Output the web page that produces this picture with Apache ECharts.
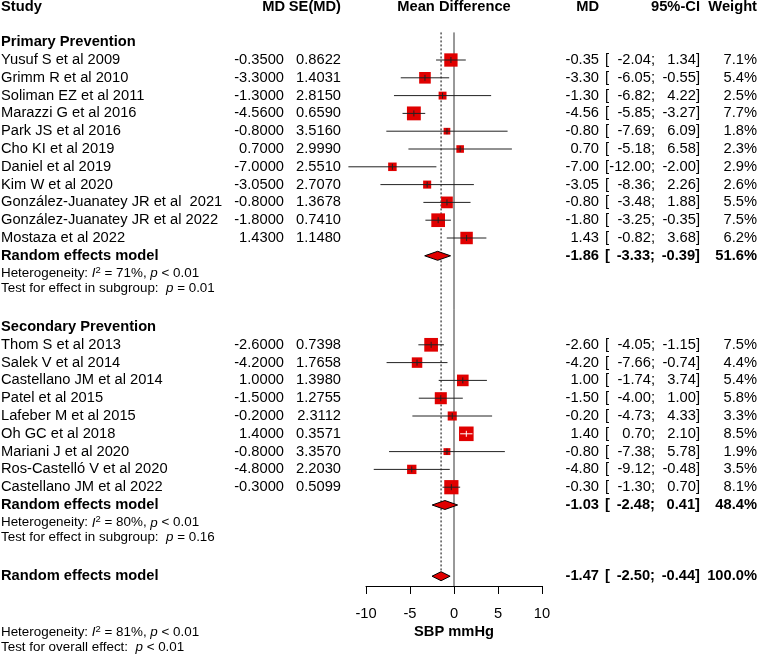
<!DOCTYPE html>
<html>
<head>
<meta charset="utf-8">
<script src="https://cdn.jsdelivr.net/npm/echarts@6/dist/echarts.min.js"></script>
<style>
  html, body { margin: 0; padding: 0; background: #fff; }
  #chart { width: 758px; height: 655px; }
</style>
</head>
<body>
<div id="chart"></div>
<script>
// 一级预防 研究数据
const primaryStudies = [
  'Yusuf S et al 2009', 'Grimm R et al 2010', 'Soliman EZ et al 2011', 'Marazzi G et al 2016',
  'Park JS et al 2016', 'Cho KI et al 2019', 'Daniel et al 2019', 'Kim W et al 2020',
  'González-Juanatey JR et al  2021', 'González-Juanatey JR et al 2022', 'Mostaza et al 2022',
];
const primaryMD = [-0.35, -3.30, -1.30, -4.56, -0.80, 0.70, -7.00, -3.05, -0.80, -1.80, 1.43];
const primarySE = [0.8622, 1.4031, 2.8150, 0.6590, 3.5160, 2.9990, 2.5510, 2.7070, 1.3678, 0.7410, 1.1480];
const primaryLower = [-2.04, -6.05, -6.82, -5.85, -7.69, -5.18, -12.00, -8.36, -3.48, -3.25, -0.82];
const primaryUpper = [1.34, -0.55, 4.22, -3.27, 6.09, 6.58, -2.00, 2.26, 1.88, -0.35, 3.68];
const primaryWeight = [7.1, 5.4, 2.5, 7.7, 1.8, 2.3, 2.9, 2.6, 5.5, 7.5, 6.2];

// 二级预防 研究数据
const secondaryStudies = [
  'Thom S et al 2013', 'Salek V et al 2014', 'Castellano JM et al 2014', 'Patel et al 2015',
  'Lafeber M et al 2015', 'Oh GC et al 2018', 'Mariani J et al 2020', 'Ros-Castelló V et al 2020',
  'Castellano JM et al 2022',
];
const secondaryMD = [-2.60, -4.20, 1.00, -1.50, -0.20, 1.40, -0.80, -4.80, -0.30];
const secondarySE = [0.7398, 1.7658, 1.3980, 1.2755, 2.3112, 0.3571, 3.3570, 2.2030, 0.5099];
const secondaryLower = [-4.05, -7.66, -1.74, -4.00, -4.73, 0.70, -7.38, -9.12, -1.30];
const secondaryUpper = [-1.15, -0.74, 3.74, 1.00, 4.33, 2.10, 5.78, -0.48, 0.70];
const secondaryWeight = [7.5, 4.4, 5.4, 5.8, 3.3, 8.5, 1.9, 3.5, 8.1];

// 亚组汇总
const subgroupNames = ['Primary Prevention', 'Secondary Prevention'];
const subgroupMD = [-1.86, -1.03];
const subgroupLower = [-3.33, -2.48];
const subgroupUpper = [-0.39, 0.41];
const subgroupWeight = [51.6, 48.4];
const subgroupI2 = ['71%', '80%'];
const subgroupHetP = ['< 0.01', '< 0.01'];
const subgroupTestP = ['= 0.01', '= 0.16'];

// 总体汇总
const overallMD = -1.47;
const overallLower = -2.50;
const overallUpper = -0.44;
const overallWeight = 100.0;
const overallI2 = '81%';
const overallHetP = '< 0.01';
const overallTestP = '< 0.01';

// x 轴刻度
const xMin = -10;
const xMax = 10;
const xStep = 5;
const xName = 'SBP mmHg';

// 布局
const FONT = '"Liberation Sans", Arial, Helvetica, sans-serif';
const FS = 14.7;
const FS_SMALL = 13.4;
const RED = '#e00000';
const ROW_TOP = 6.6;
const ROW_H = 17.8;
const N_ROWS = 36;
const PLOT_LEFT = 366;
const PLOT_W = 176;
const AXIS_ROW = 32.55;
const BOX_SCALE = 5.0;
const rowPx = (k) => ROW_TOP + ROW_H * k;

const chart = echarts.init(document.getElementById('chart'));

const texts = [];
function txt(str, x, k, align, bold, size) {
  texts.push({
    type: 'text',
    x: x,
    y: rowPx(k),
    silent: true,
    style: {
      text: str,
      textAlign: align,
      textVerticalAlign: 'middle',
      fontFamily: FONT,
      fontSize: size || FS,
      fontWeight: bold ? 'bold' : 'normal',
      fill: '#000',
    },
  });
}
// 斜体 I² / p 的小字
function statTxt(str, k) {
  texts.push({
    type: 'text',
    x: 1,
    y: rowPx(k),
    silent: true,
    style: {
      text: str,
      textAlign: 'left',
      textVerticalAlign: 'middle',
      fontFamily: FONT,
      fontSize: FS_SMALL,
      fill: '#000',
      rich: {
        it: { fontFamily: FONT, fontSize: FS_SMALL, fontStyle: 'italic', fill: '#000' },
        sup: { fontFamily: FONT, fontSize: 9.5, fill: '#000', padding: [0, 0, 7, 0] },
      },
    },
  });
}
// 右侧 MD / 95%-CI / Weight
function rightCols(md, lo, hi, w, k, bold) {
  txt(md.toFixed(2), 599, k, 'right', bold);
  txt('[', 605, k, 'left', bold);
  txt(lo.toFixed(2) + ';', 655, k, 'right', bold);
  txt(hi.toFixed(2) + ']', 700, k, 'right', bold);
  txt(w.toFixed(1) + '%', 757, k, 'right', bold);
}

// 表头
txt('Study', 1, 0, 'left', true);
txt('MD', 285, 0, 'right', true);
txt('SE(MD)', 341, 0, 'right', true);
txt('Mean Difference', PLOT_LEFT + PLOT_W / 2, 0, 'center', true);
txt('MD', 599, 0, 'right', true);
txt('95%-CI', 700, 0, 'right', true);
txt('Weight', 757, 0, 'right', true);

const groups = [
  { studies: primaryStudies, md: primaryMD, se: primarySE, lo: primaryLower, hi: primaryUpper, w: primaryWeight },
  { studies: secondaryStudies, md: secondaryMD, se: secondarySE, lo: secondaryLower, hi: secondaryUpper, w: secondaryWeight },
];

const studyData = [];
const diamondData = [];
let row = 2;
groups.forEach((g, gi) => {
  txt(subgroupNames[gi], 1, row, 'left', true);
  row++;
  g.studies.forEach((name, i) => {
    studyData.push([g.md[i], g.lo[i], g.hi[i], row, g.w[i]]);
    txt(name, 1, row, 'left', false);
    txt(g.md[i].toFixed(4), 284, row, 'right', false);
    txt(g.se[i].toFixed(4), 341, row, 'right', false);
    rightCols(g.md[i], g.lo[i], g.hi[i], g.w[i], row, false);
    row++;
  });
  diamondData.push([subgroupMD[gi], subgroupLower[gi], subgroupUpper[gi], row]);
  txt('Random effects model', 1, row, 'left', true);
  rightCols(subgroupMD[gi], subgroupLower[gi], subgroupUpper[gi], subgroupWeight[gi], row, true);
  statTxt('Heterogeneity: {it|I}{sup|2} = ' + subgroupI2[gi] + ', {it|p} ' + subgroupHetP[gi], row + 1);
  statTxt('Test for effect in subgroup:  {it|p} ' + subgroupTestP[gi], row + 1.82);
  row += 4;
});
const overallRow = row;
diamondData.push([overallMD, overallLower, overallUpper, overallRow]);
txt('Random effects model', 1, overallRow, 'left', true);
rightCols(overallMD, overallLower, overallUpper, overallWeight, overallRow, true);
statTxt('Heterogeneity: {it|I}{sup|2} = ' + overallI2 + ', {it|p} ' + overallHetP, overallRow + 3.17);
statTxt('Test for overall effect:  {it|p} ' + overallTestP, overallRow + 3.99);

// 参考线: [x, 起始行, 结束行, 是否虚线]
const refLineData = [
  [0, 1.45, AXIS_ROW, 0],
  [overallMD, 1.45, overallRow, 1],
];

function renderRefLine(params, api) {
  const p1 = api.coord([api.value(0), api.value(1)]);
  const p2 = api.coord([api.value(0), api.value(2)]);
  const dashed = api.value(3) === 1;
  return {
    type: 'line',
    shape: { x1: p1[0], y1: p1[1], x2: p2[0], y2: p2[1] },
    style: { stroke: dashed ? '#000' : '#333', lineWidth: 1, lineDash: dashed ? [2, 2] : null },
  };
}

function renderStudy(params, api) {
  const row = api.value(3);
  const c = api.coord([api.value(0), row]);
  const pLo = api.coord([api.value(1), row]);
  const pHi = api.coord([api.value(2), row]);
  const size = BOX_SCALE * Math.sqrt(api.value(4));
  // 置信区间比方块短时用白线
  const lineColor = pHi[0] - pLo[0] < size ? '#ffffff' : '#222222';
  return {
    type: 'group',
    children: [
      { type: 'rect', shape: { x: c[0] - size / 2, y: c[1] - size / 2, width: size, height: size }, style: { fill: RED } },
      { type: 'line', shape: { x1: pLo[0], y1: c[1], x2: pHi[0], y2: c[1] }, style: { stroke: lineColor, lineWidth: 1 } },
      { type: 'line', shape: { x1: c[0], y1: c[1] - 3, x2: c[0], y2: c[1] + 3 }, style: { stroke: lineColor, lineWidth: 1 } },
    ],
  };
}

function renderDiamond(params, api) {
  const row = api.value(3);
  const c = api.coord([api.value(0), row]);
  const pLo = api.coord([api.value(1), row]);
  const pHi = api.coord([api.value(2), row]);
  const h = 4.5;
  return {
    type: 'polygon',
    shape: { points: [[pLo[0], c[1]], [c[0], c[1] - h], [pHi[0], c[1]], [c[0], c[1] + h]] },
    style: { fill: RED, stroke: '#000', lineWidth: 1 },
  };
}

const axisTop = rowPx(AXIS_ROW);

chart.setOption({
  animation: false,
  graphic: { elements: texts },
  grid: [
    { left: PLOT_LEFT, width: PLOT_W, top: ROW_TOP, height: ROW_H * N_ROWS, outerBoundsMode: 'none', containLabel: false },
    { left: PLOT_LEFT, width: PLOT_W, top: axisTop - 1, height: 1, outerBoundsMode: 'none', containLabel: false },
  ],
  xAxis: [
    { gridIndex: 0, type: 'value', min: xMin, max: xMax, show: false },
    {
      gridIndex: 1,
      type: 'value',
      min: xMin,
      max: xMax,
      interval: xStep,
      position: 'bottom',
      axisLine: { show: true, lineStyle: { color: '#000', width: 1 } },
      axisTick: { show: true, length: 8, lineStyle: { color: '#000', width: 1 } },
      axisLabel: { fontFamily: FONT, fontSize: FS, color: '#000', margin: 20 },
      splitLine: { show: false },
      name: xName,
      nameLocation: 'middle',
      nameGap: 38,
      nameTextStyle: { fontFamily: FONT, fontSize: FS, fontWeight: 'bold', color: '#000' },
    },
  ],
  yAxis: [
    { gridIndex: 0, type: 'value', min: 0, max: N_ROWS, inverse: true, show: false },
    { gridIndex: 1, type: 'value', min: 0, max: 1, show: false },
  ],
  series: [
    {
      type: 'custom',
      xAxisIndex: 0,
      yAxisIndex: 0,
      renderItem: renderRefLine,
      data: refLineData,
      encode: { x: 0, y: [1, 2] },
      silent: true,
      z: 1,
    },
    {
      type: 'custom',
      xAxisIndex: 0,
      yAxisIndex: 0,
      renderItem: renderStudy,
      data: studyData,
      encode: { x: [0, 1, 2], y: 3 },
      silent: true,
      z: 2,
    },
    {
      type: 'custom',
      xAxisIndex: 0,
      yAxisIndex: 0,
      renderItem: renderDiamond,
      data: diamondData,
      encode: { x: [0, 1, 2], y: 3 },
      silent: true,
      z: 3,
    },
  ],
});
</script>
</body>
</html>
